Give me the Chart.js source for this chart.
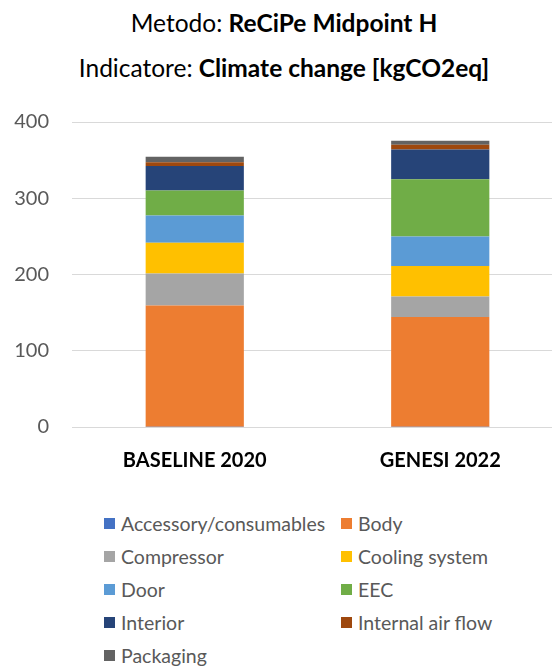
<!DOCTYPE html>
<html>
<head>
<meta charset="utf-8">
<script src="https://cdn.jsdelivr.net/npm/chart.js@4"></script>
<style>
  html, body { margin: 0; padding: 0; background: #fff; width: 552px; height: 668px; overflow: hidden; }
  body { position: relative; font-family: Lato, "Open Sans", sans-serif; color: #000; }
  .title { position: absolute; left: 0; width: 568px; text-align: center; font-size: 24.5px; white-space: nowrap; }
  #t1 { top: 8px; }
  #t2 { top: 53px; }
  #wrap { position: absolute; left: 0; top: 87px; width: 563px; height: 390px; }
  #legend { position: absolute; left: 104px; top: 512px; width: 440px; }
  #legend ul { list-style: none; margin: 0; padding: 0; display: grid; grid-template-columns: 237px 200px; grid-auto-rows: 33.2px; }
  #legend li { display: flex; align-items: center; height: 22px; font-size: 19.5px; color: #595959; white-space: nowrap; }
  #legend .box { display: inline-block; width: 11px; height: 11px; margin-right: 6px; flex: none; }
</style>
</head>
<body>
<div class="title" id="t1">Metodo: <b>ReCiPe Midpoint H</b></div>
<div class="title" id="t2">Indicatore: <b>Climate change [kgCO2eq]</b></div>
<div id="wrap"><canvas id="chart"></canvas></div>
<div id="legend"></div>
<script>
// Scenarios compared on the x axis
const categories = ["BASELINE 2020", "GENESI 2022"];

// Climate change contribution per component [kgCO2eq]
const accessory      = [0.3, 0.3];
const body           = [159, 144];
const compressor     = [42, 27];
const coolingSystem  = [40.5, 40];
const door           = [35.5, 38.5];
const eec            = [33, 75];
const interior       = [32, 39];
const internalAir    = [5, 6.5];
const packaging      = [7, 5];

// y axis ticks
const yTicks = [0, 100, 200, 300, 400];

const series = [
  { label: "Accessory/consumables", data: accessory,     color: "#4472C4" },
  { label: "Body",                  data: body,          color: "#ED7D31" },
  { label: "Compressor",            data: compressor,    color: "#A5A5A5" },
  { label: "Cooling system",        data: coolingSystem, color: "#FFC000" },
  { label: "Door",                  data: door,          color: "#5B9BD5" },
  { label: "EEC",                   data: eec,           color: "#70AD47" },
  { label: "Interior",              data: interior,      color: "#264478" },
  { label: "Internal air flow",     data: internalAir,   color: "#9E480E" },
  { label: "Packaging",             data: packaging,     color: "#636363" }
];

// Two-column HTML legend built from the chart's datasets
const htmlLegend = {
  id: "htmlLegend",
  afterUpdate(chart) {
    const host = document.getElementById("legend");
    host.innerHTML = "";
    const ul = document.createElement("ul");
    chart.data.datasets.forEach(ds => {
      const li = document.createElement("li");
      const box = document.createElement("span");
      box.className = "box";
      box.style.background = ds.backgroundColor;
      li.appendChild(box);
      li.appendChild(document.createTextNode(ds.label));
      ul.appendChild(li);
    });
    host.appendChild(ul);
  }
};

new Chart(document.getElementById("chart"), {
  type: "bar",
  data: {
    labels: categories,
    datasets: series.map(s => ({
      label: s.label,
      data: s.data,
      backgroundColor: s.color,
      borderWidth: 0,
      barPercentage: 0.4,
      categoryPercentage: 1
    }))
  },
  options: {
    responsive: true,
    maintainAspectRatio: false,
    animation: false,
    layout: { padding: 0 },
    plugins: {
      legend: { display: false },
      tooltip: { enabled: false }
    },
    scales: {
      x: {
        stacked: true,
        afterFit(axis) { axis.height = 50; },
        grid: { display: false },
        border: { display: false },
        ticks: { color: "#000", font: { family: "Lato", size: 20, weight: "bold" }, padding: 14 }
      },
      y: {
        stacked: true,
        min: 0,
        max: 400,
        afterBuildTicks(axis) { axis.ticks = yTicks.map(v => ({ value: v })); },
        afterFit(axis) { axis.width = 72; },
        grid: { color: "#D9D9D9", lineWidth: 1, drawTicks: false },
        border: { display: false },
        ticks: { color: "#595959", font: { family: "Lato", size: 20 }, padding: 23 }
      }
    }
  },
  plugins: [htmlLegend]
});
</script>
</body>
</html>
